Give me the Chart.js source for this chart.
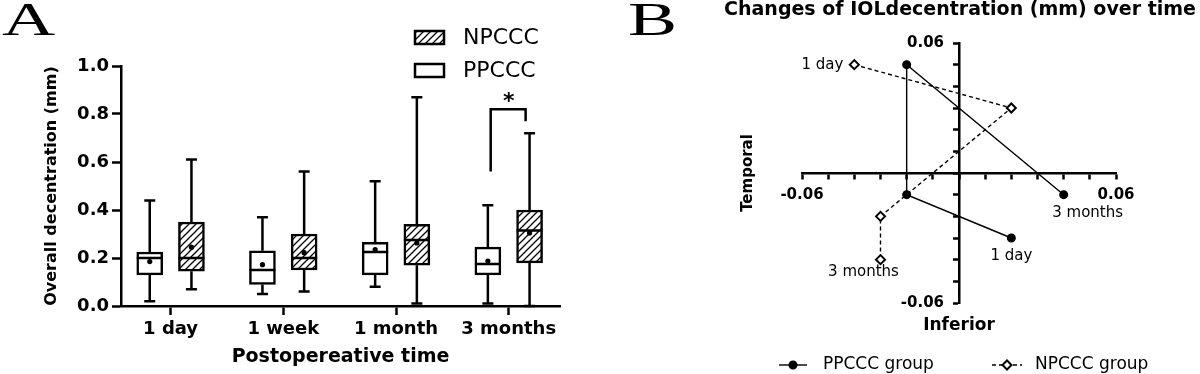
<!DOCTYPE html>
<html>
<head>
<meta charset="utf-8">
<title>IOL decentration</title>
<script src="https://cdn.jsdelivr.net/npm/chart.js@4.4.1/dist/chart.umd.min.js"></script>
<style>
  html, body { margin: 0; padding: 0; background: #fff; }
  #page { position: relative; width: 1200px; height: 374px; overflow: hidden; background: #fff; }
  .panel { position: absolute; top: 0; height: 374px; }
  .letter { position: absolute; top: -3px; font-family: "Liberation Serif", serif; font-size: 46px; line-height: 46px; transform: scaleX(1.6); transform-origin: left top; }
</style>
</head>
<body>
<div id="page">
  <div class="panel" style="left:0;width:600px"><canvas id="boxChart"></canvas></div>
  <div class="panel" style="left:720px;width:480px"><canvas id="pathChart"></canvas></div>
  <div class="letter" style="left:2px">A</div>
  <div class="letter" style="left:628px">B</div>
</div>
<script>
const timepoints = ["1 day", "1 week", "1 month", "3 months"];

// panel A, PPCCC boxes (mm)
const ppMin = [0.02, 0.05, 0.08, 0.01];
const ppQ1 = [0.13, 0.09, 0.13, 0.13];
const ppMedian = [0.2, 0.15, 0.225, 0.175];
const ppQ3 = [0.225, 0.23, 0.265, 0.245];
const ppMax = [0.44, 0.37, 0.52, 0.42];
const ppMean = [0.185, 0.172, 0.235, 0.187];

// panel A, NPCCC boxes (mm)
const npMin = [0.07, 0.06, 0.01, 0.0];
const npQ1 = [0.145, 0.15, 0.17, 0.18];
const npMedian = [0.2, 0.2, 0.275, 0.315];
const npQ3 = [0.35, 0.3, 0.34, 0.4];
const npMax = [0.61, 0.56, 0.87, 0.72];
const npMean = [0.245, 0.222, 0.263, 0.304];

// * bracket at 3 months: left leg end, top, right leg end
const sigBracket = [0.56, 0.82, 0.77];

// panel B, mean decentration per time point (mm)
const ppTemporal = [0.02, -0.02, -0.02, 0.04];
const ppInferior = [-0.03, -0.01, 0.05, -0.01];
const npTemporal = [-0.04, 0.02, -0.03, -0.03];
const npInferior = [0.05, 0.03, -0.02, -0.04];

Chart.defaults.font.family = "'DejaVu Sans', sans-serif";
Chart.defaults.color = "#000";
Chart.defaults.animation = false;

const groups = [
  { min: ppMin, q1: ppQ1, median: ppMedian, q3: ppQ3, max: ppMax, mean: ppMean },
  { min: npMin, q1: npQ1, median: npMedian, q3: npQ3, max: npMax, mean: npMean }
];

function hatchPattern() {
  const size = 7;
  const c = document.createElement("canvas");
  c.width = size;
  c.height = size;
  const g = c.getContext("2d");
  g.fillStyle = "#fff";
  g.fillRect(0, 0, size, size);
  g.strokeStyle = "#000";
  g.lineWidth = 1.3;
  g.beginPath();
  g.moveTo(0, size);
  g.lineTo(size, 0);
  g.moveTo(-size / 2, size / 2);
  g.lineTo(size / 2, -size / 2);
  g.moveTo(size / 2, size * 1.5);
  g.lineTo(size * 1.5, size / 2);
  g.stroke();
  return g.createPattern(c, "repeat");
}

const hatch = hatchPattern();

function boxes(q1, q3, side) {
  return q1.map((low, i) => ({ x: i + side * 0.185, y: [low, q3[i]] }));
}

const boxExtras = {
  id: "boxExtras",
  afterDatasetsDraw(chart) {
    const { ctx, scales: { x, y } } = chart;
    ctx.save();
    ctx.strokeStyle = "#000";
    ctx.fillStyle = "#000";
    ctx.lineWidth = 2.5;

    groups.forEach((g, d) => {
      chart.getDatasetMeta(d).data.forEach((bar, i) => {
        const half = bar.width / 2;
        const top = y.getPixelForValue(g.max[i]);
        const bottom = y.getPixelForValue(g.min[i]);
        const med = y.getPixelForValue(g.median[i]);
        ctx.beginPath();
        ctx.moveTo(bar.x, y.getPixelForValue(g.q3[i]));
        ctx.lineTo(bar.x, top);
        ctx.moveTo(bar.x - 5.5, top);
        ctx.lineTo(bar.x + 5.5, top);
        ctx.moveTo(bar.x, y.getPixelForValue(g.q1[i]));
        ctx.lineTo(bar.x, bottom);
        ctx.moveTo(bar.x - 5.5, bottom);
        ctx.lineTo(bar.x + 5.5, bottom);
        ctx.moveTo(bar.x - half, med);
        ctx.lineTo(bar.x + half, med);
        ctx.stroke();
        ctx.beginPath();
        ctx.arc(bar.x, y.getPixelForValue(g.mean[i]), 2.6, 0, Math.PI * 2);
        ctx.fill();
      });
    });

    // significance bracket
    const left = x.getPixelForValue(3 - 0.16);
    const right = x.getPixelForValue(3 + 0.15);
    const topY = y.getPixelForValue(sigBracket[1]);
    ctx.beginPath();
    ctx.moveTo(left, y.getPixelForValue(sigBracket[0]));
    ctx.lineTo(left, topY);
    ctx.lineTo(right, topY);
    ctx.lineTo(right, y.getPixelForValue(sigBracket[2]));
    ctx.stroke();
    ctx.font = "bold 22px 'DejaVu Sans'";
    ctx.textAlign = "center";
    ctx.textBaseline = "alphabetic";
    ctx.fillText("*", x.getPixelForValue(3), topY - 1);

    // legend
    ctx.font = "22px 'DejaVu Sans'";
    ctx.textAlign = "left";
    ctx.textBaseline = "middle";
    [["NPCCC", hatch, 31], ["PPCCC", "#fff", 64]].forEach(([label, fill, top]) => {
      ctx.fillStyle = fill;
      ctx.fillRect(415, top, 29, 13);
      ctx.strokeRect(415, top, 29, 13);
      ctx.fillStyle = "#000";
      ctx.fillText(label, 463, top + 7);
    });
    ctx.restore();
  }
};

new Chart(document.getElementById("boxChart"), {
  type: "bar",
  data: {
    datasets: [
      { label: "PPCCC", data: boxes(ppQ1, ppQ3, -1), backgroundColor: "#fff", borderColor: "#000", borderWidth: 2.5, borderSkipped: false, barThickness: 26, grouped: false },
      { label: "NPCCC", data: boxes(npQ1, npQ3, 1), backgroundColor: hatch, borderColor: "#000", borderWidth: 2.5, borderSkipped: false, barThickness: 26, grouped: false }
    ]
  },
  options: {
    responsive: true,
    maintainAspectRatio: false,
    layout: { padding: { top: 66, right: 40, left: 0, bottom: 0 } },
    plugins: { legend: { display: false }, tooltip: { enabled: false } },
    scales: {
      x: {
        type: "linear",
        min: -0.44,
        max: 3.455,
        offset: false,
        afterBuildTicks: (s) => { s.ticks = timepoints.map((t, i) => ({ value: i })); },
        afterFit: (s) => { s.height = 68; s.paddingLeft = 0; s.paddingRight = 0; },
        ticks: { callback: (v) => timepoints[v], font: { size: 18, weight: "bold" }, padding: 4, maxRotation: 0, autoSkip: false },
        grid: { drawOnChartArea: false, offset: false, tickLength: 9, tickWidth: 2.5, tickColor: "#000" },
        border: { color: "#000", width: 2.5 },
        title: { display: true, text: "Postopereative time", font: { size: 19, weight: "bold" }, padding: { top: 0, bottom: 6 } }
      },
      y: {
        min: 0,
        max: 1,
        afterFit: (s) => { s.width = 121; s.paddingTop = 0; s.paddingBottom = 0; },
        ticks: { stepSize: 0.2, callback: (v) => v.toFixed(1), font: { size: 18, weight: "bold" }, padding: 3 },
        grid: { drawOnChartArea: false, tickLength: 9, tickWidth: 2.5, tickColor: "#000" },
        border: { color: "#000", width: 2.5 },
        title: { display: true, text: "Overall decentration (mm)", font: { size: 16, weight: "bold" }, padding: { top: 42, bottom: 0 } }
      }
    }
  },
  plugins: [boxExtras]
});

// panel B
function isEnd(v) {
  return Math.abs(Math.abs(v) - 0.06) < 1e-6;
}

const pointNotes = [
  { d: 0, i: 0, dx: 0, dy: 18, align: "center" },
  { d: 0, i: 3, dx: 24, dy: 18, align: "center" },
  { d: 1, i: 0, dx: -11, dy: 0, align: "right" },
  { d: 1, i: 3, dx: -17, dy: 12, align: "center" }
];

const pathExtras = {
  id: "pathExtras",
  afterDatasetsDraw(chart) {
    const { ctx, chartArea, scales: { x, y } } = chart;
    ctx.save();
    ctx.fillStyle = "#000";
    ctx.strokeStyle = "#000";
    ctx.textBaseline = "middle";

    ctx.font = "15px 'DejaVu Sans'";
    pointNotes.forEach((n) => {
      const pt = chart.getDatasetMeta(n.d).data[n.i];
      ctx.textAlign = n.align;
      ctx.fillText(timepoints[n.i], pt.x + n.dx, pt.y + n.dy);
    });

    ctx.textAlign = "center";
    ctx.font = "bold 19px 'DejaVu Sans'";
    ctx.fillText("Changes of IOLdecentration (mm) over time", chart.width / 2, 10);

    ctx.font = "bold 17px 'DejaVu Sans'";
    ctx.fillText("Inferior", x.getPixelForValue(0), chartArea.bottom + 23);

    ctx.save();
    ctx.font = "bold 15px 'DejaVu Sans'";
    ctx.translate(chartArea.left - 54, y.getPixelForValue(0));
    ctx.rotate(-Math.PI / 2);
    ctx.fillText("Temporal", 0, 0);
    ctx.restore();

    // legend
    const ly = chart.height - 9;
    ctx.font = "17px 'DejaVu Sans'";
    ctx.textAlign = "left";
    ctx.lineWidth = 1.4;
    ctx.beginPath();
    ctx.moveTo(59, ly);
    ctx.lineTo(87, ly);
    ctx.stroke();
    Chart.helpers.drawPoint(ctx, { pointStyle: "circle", radius: 3.8, borderWidth: 1 }, 73, ly);
    ctx.fillText("PPCCC group", 103, ly);

    ctx.setLineDash([4, 3]);
    ctx.beginPath();
    ctx.moveTo(272, ly);
    ctx.lineTo(302, ly);
    ctx.stroke();
    ctx.setLineDash([]);
    ctx.fillStyle = "#fff";
    ctx.lineWidth = 2;
    Chart.helpers.drawPoint(ctx, { pointStyle: "rectRot", radius: 4.5, borderWidth: 2 }, 287, ly);
    ctx.fillStyle = "#000";
    ctx.fillText("NPCCC group", 315, ly);
    ctx.restore();
  }
};

const axisGrid = { drawOnChartArea: false, tickLength: 5, tickWidth: 2.5, tickColor: "#000" };

new Chart(document.getElementById("pathChart"), {
  type: "scatter",
  data: {
    datasets: [
      {
        label: "PPCCC group",
        data: ppTemporal.map((v, i) => ({ x: v, y: ppInferior[i] })),
        showLine: true,
        borderColor: "#000",
        borderWidth: 1.4,
        pointStyle: "circle",
        pointRadius: 3.8,
        pointBackgroundColor: "#000",
        pointBorderColor: "#000"
      },
      {
        label: "NPCCC group",
        data: npTemporal.map((v, i) => ({ x: v, y: npInferior[i] })),
        showLine: true,
        borderColor: "#000",
        borderWidth: 1.4,
        borderDash: [4, 3],
        pointStyle: "rectRot",
        pointRadius: 4.5,
        pointBackgroundColor: "#fff",
        pointBorderColor: "#000",
        pointBorderWidth: 2
      }
    ]
  },
  options: {
    responsive: true,
    maintainAspectRatio: false,
    layout: { padding: { top: 43, left: 82, right: 84, bottom: 71 } },
    plugins: { legend: { display: false }, tooltip: { enabled: false } },
    scales: {
      x: {
        type: "linear",
        min: -0.06,
        max: 0.06,
        position: { y: 0 },
        ticks: { stepSize: 0.01, autoSkip: false, maxRotation: 0, callback: (v) => (isEnd(v) ? v.toFixed(2) : ""), font: { size: 15, weight: "bold" }, padding: 8 },
        grid: axisGrid,
        border: { color: "#000", width: 2.5 }
      },
      y: {
        type: "linear",
        min: -0.06,
        max: 0.06,
        position: { x: 0 },
        // labels sit right-aligned on a centred axis, so keep a gap after them
        ticks: { stepSize: 0.01, autoSkip: false, callback: (v) => (isEnd(v) ? v.toFixed(2) + "\u2002\u2002" : ""), font: { size: 15, weight: "bold" } },
        grid: axisGrid,
        border: { color: "#000", width: 2.5 }
      }
    }
  },
  plugins: [pathExtras]
});
</script>
</body>
</html>
